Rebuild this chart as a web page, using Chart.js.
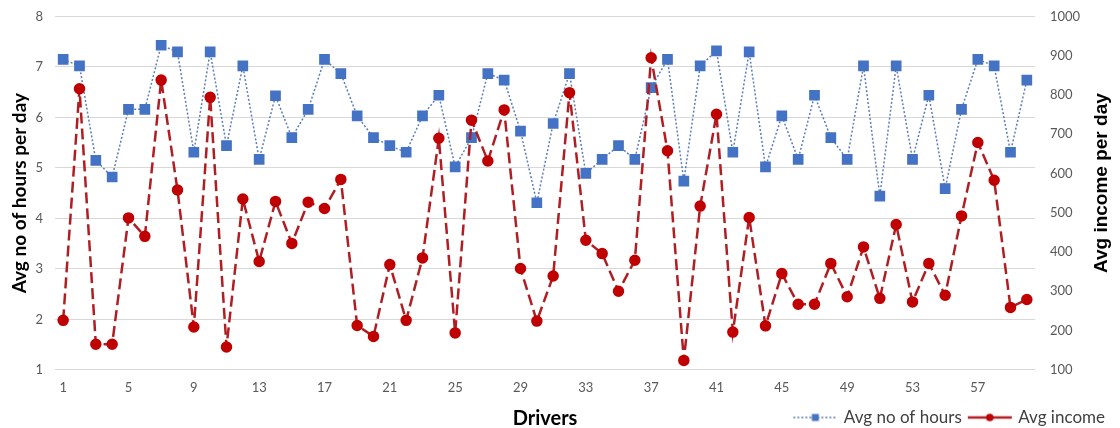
<!DOCTYPE html>
<html>
<head>
<meta charset="utf-8">
<script src="https://cdn.jsdelivr.net/npm/chart.js@4/dist/chart.umd.min.js"></script>
<style>
  html, body { margin: 0; padding: 0; background: #fff; }
  #wrap { width: 1120px; height: 428px; }
</style>
</head>
<body>
<div id="wrap"><canvas id="myChart"></canvas></div>
<script>
'use strict';

/** @desc Drivers 1..60 */
const DRIVERS = ['1','2','3','4','5','6','7','8','9','10','11','12','13','14','15','16','17','18','19','20',
  '21','22','23','24','25','26','27','28','29','30','31','32','33','34','35','36','37','38','39','40',
  '41','42','43','44','45','46','47','48','49','50','51','52','53','54','55','56','57','58','59','60'];

/** @desc Average number of hours per day (left axis) */
const HOURS = [7.15, 7.02, 5.15, 4.82, 6.16, 6.16, 7.43, 7.30, 5.31, 7.30,
  5.44, 7.02, 5.17, 6.43, 5.60, 6.16, 7.15, 6.87, 6.03, 5.60,
  5.44, 5.31, 6.03, 6.44, 5.02, 5.60, 6.87, 6.74, 5.73, 4.31,
  5.88, 6.87, 4.89, 5.17, 5.44, 5.17, 6.59, 7.15, 4.74, 7.02,
  7.32, 5.31, 7.30, 5.02, 6.03, 5.17, 6.44, 5.60, 5.17, 7.02,
  4.44, 7.02, 5.17, 6.44, 4.59, 6.16, 7.15, 7.02, 5.31, 6.74];

/** @desc Average income per day (right axis) */
const INCOME = [226, 816, 165, 165, 487, 440, 838, 558, 209, 794,
  158, 535, 376, 529, 422, 527, 511, 585, 213, 185,
  368, 226, 385, 690, 194, 736, 632, 762, 358, 224,
  339, 806, 430, 396, 300, 379, 895, 658, 124, 517,
  751, 196, 488, 212, 345, 267, 267, 371, 286, 413,
  282, 470, 273, 371, 290, 492, 679, 583, 259, 279];

/** @desc Tick ranges */
const LEFT_TICKS = [1, 8];
const RIGHT_TICKS = [100, 1000];
const RIGHT_TITLE = 'Avg income per day';

const BLUE = '#4472C4';
const RED = '#C00000';
const FONT = 'Lato, "Open Sans", sans-serif';

/** @desc small images for legend, line with marker */
function legendIcon(kind) {
  const c = document.createElement('canvas');
  c.width = 46; c.height = 12;
  const g = c.getContext('2d');
  g.beginPath();
  g.moveTo(1, 6); g.lineTo(45, 6);
  if (kind === 'hours') {
    g.strokeStyle = '#5B7DB8'; g.lineWidth = 1.5; g.setLineDash([2, 2]);
    g.stroke();
    g.fillStyle = BLUE; g.fillRect(19.5, 2.5, 7, 7);
  } else {
    g.strokeStyle = '#B01E23'; g.lineWidth = 2.5;
    g.stroke();
    g.fillStyle = RED; g.beginPath(); g.arc(23, 6, 3.8, 0, Math.PI * 2); g.fill();
  }
  return c;
}

const ICONS = { hours: legendIcon('hours'), income: legendIcon('income') };

/** @desc right axis title, read bottom to top like the left one */
const rightTitle = {
  id: 'rightTitle',
  afterDraw(chart) {
    const { ctx, chartArea } = chart;
    ctx.save();
    ctx.translate(1102, (chartArea.top + chartArea.bottom) / 2 - 10);
    ctx.rotate(-Math.PI / 2);
    ctx.font = 'bold 19px "Liberation Sans", Arial, sans-serif';
    ctx.fillStyle = '#000';
    ctx.textAlign = 'center';
    ctx.textBaseline = 'middle';
    ctx.fillText(RIGHT_TITLE, 0, 0);
    ctx.restore();
  }
};

const DATA = {
  labels: DRIVERS,
  datasets: [{
    label: 'Avg income',
    data: INCOME,
    yAxisID: 'y1',
    borderColor: '#B01E23',
    borderWidth: 2.5,
    borderDash: [11, 5],
    backgroundColor: RED,
    pointBackgroundColor: RED,
    pointBorderColor: RED,
    pointRadius: 4.5,
    pointStyle: 'circle',
    tension: 0
  }, {
    label: 'Avg no of hours',
    data: HOURS,
    yAxisID: 'y',
    borderColor: '#5B7DB8',
    borderWidth: 1.5,
    borderDash: [2, 2],
    backgroundColor: BLUE,
    pointBackgroundColor: BLUE,
    pointBorderColor: BLUE,
    pointRadius: 6.5,
    pointStyle: 'rect',
    tension: 0
  }]
};

const PLUGINS = {
  legend: {
    position: 'bottom',
    align: 'end',
    labels: {
      usePointStyle: true,
      pointStyleWidth: 40,
      padding: 8,
      color: '#404040',
      font: { family: FONT, size: 17 },
      generateLabels: () => [
        { text: 'Avg no of hours', pointStyle: ICONS.hours, fillStyle: BLUE, strokeStyle: BLUE, lineWidth: 0, datasetIndex: 1, fontColor: '#404040' },
        { text: 'Avg income', pointStyle: ICONS.income, fillStyle: RED, strokeStyle: RED, lineWidth: 0, datasetIndex: 0, fontColor: '#404040' }
      ]
    }
  },
  tooltip: { enabled: false }
};

const TICK_FONT = { family: FONT, size: 13 };

const SCALES = {
  x: {
    offset: true,
    grid: { display: false, drawTicks: false },
    border: { display: false },
    ticks: {
      autoSkip: false,
      maxRotation: 0,
      color: '#595959',
      font: TICK_FONT,
      padding: 10.5,
      callback: (v, i) => (i % 4 === 0 ? DRIVERS[i] : '')
    },
    title: {
      display: true,
      text: 'Drivers',
      color: '#000',
      font: { family: FONT, size: 20, weight: 'bold' },
      padding: { top: 0, bottom: -29.4 }
    }
  },
  y: {
    position: 'left',
    min: LEFT_TICKS[0],
    max: LEFT_TICKS[1],
    border: { display: false },
    grid: { color: '#D9D9D9', lineWidth: 1, drawTicks: false },
    ticks: { stepSize: 1, color: '#595959', font: TICK_FONT, padding: 12 },
    title: {
      display: true,
      text: 'Avg no of hours per day',
      color: '#000',
      font: { family: FONT, size: 19, weight: 'bold' },
      padding: { top: 8.6, bottom: 0 }
    },
    afterFit: s => { s.width = 55; s.paddingTop = 16.5; }
  },
  y1: {
    position: 'right',
    min: RIGHT_TICKS[0],
    max: RIGHT_TICKS[1],
    border: { display: false },
    grid: { display: false, drawTicks: false },
    ticks: { stepSize: 100, color: '#595959', font: TICK_FONT, padding: 15, callback: v => String(v) },
    afterFit: s => { s.width = 78; s.paddingTop = 16.5; }
  }
};

const CONFIG = {
  type: 'line',
  data: DATA,
  options: {
    responsive: true,
    maintainAspectRatio: false,
    animation: false,
    layout: { padding: { top: 0, left: 0, right: 7, bottom: -8 } },
    plugins: PLUGINS,
    scales: SCALES
  },
  plugins: [rightTitle]
};

const CTX = document.getElementById('myChart').getContext('2d');
let myChart = new Chart(CTX, CONFIG);
</script>
</body>
</html>
